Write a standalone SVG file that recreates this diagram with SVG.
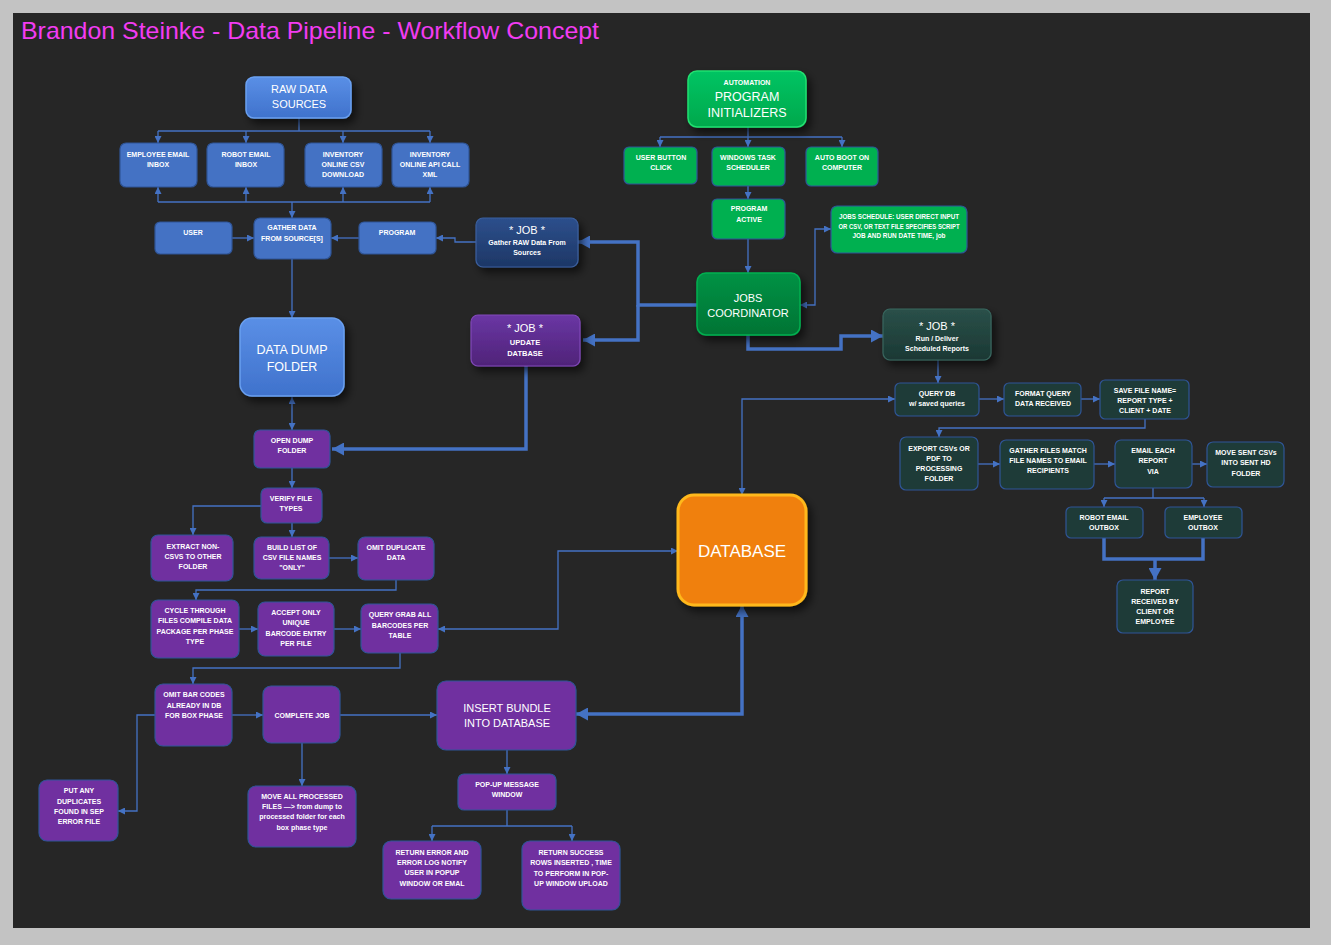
<svg xmlns="http://www.w3.org/2000/svg" width="1331" height="945" viewBox="0 0 1331 945">
<style>
text{font-family:"Liberation Sans",Arial,sans-serif;fill:#fff;text-anchor:middle}
.s{font-size:7px;font-weight:bold}
.m{font-size:11px}
.b{font-size:12.5px}
.c{stroke:#4472c4;stroke-width:1.3;fill:none}
.t{stroke:#4472c4;stroke-width:3.5;fill:none}
.nb{fill:#4472c4;stroke:#2f5597;stroke-width:1.2}
.ng{fill:#00b050;stroke:#2f5597;stroke-width:1.2}
.np{fill:#7030a0;stroke:#2f5597;stroke-width:1.2}
.nt{fill:#1e3b38;stroke:#2f5597;stroke-width:1.2}
</style>
<defs>
<marker id="a" markerUnits="userSpaceOnUse" markerWidth="7" markerHeight="7" refX="7" refY="3.5" orient="auto-start-reverse"><path d="M0,0L7,3.5L0,7z" fill="#4472c4"/></marker>
<marker id="A" markerUnits="userSpaceOnUse" markerWidth="12" markerHeight="13" refX="12" refY="6.5" orient="auto-start-reverse"><path d="M0,0L12,6.5L0,13z" fill="#4472c4"/></marker>
<linearGradient id="gB" x1="0" y1="0" x2="0" y2="1"><stop offset="0" stop-color="#5a8fe6"/><stop offset="1" stop-color="#3f72cc"/></linearGradient>
<linearGradient id="gG" x1="0" y1="0" x2="0" y2="1"><stop offset="0" stop-color="#00c463"/><stop offset="1" stop-color="#00a84c"/></linearGradient>
<linearGradient id="gJ" x1="0" y1="0" x2="0" y2="1"><stop offset="0" stop-color="#009245"/><stop offset="1" stop-color="#007434"/></linearGradient>
<linearGradient id="gN" x1="0" y1="0" x2="0" y2="1"><stop offset="0" stop-color="#2d4f8c"/><stop offset="1" stop-color="#1d3766"/></linearGradient>
<linearGradient id="gP" x1="0" y1="0" x2="0" y2="1"><stop offset="0" stop-color="#6a36a4"/><stop offset="1" stop-color="#4f2378"/></linearGradient>
<linearGradient id="gT" x1="0" y1="0" x2="0" y2="1"><stop offset="0" stop-color="#2a5049"/><stop offset="1" stop-color="#1b3834"/></linearGradient>
<filter id="sh" x="-20%" y="-20%" width="150%" height="160%"><feDropShadow dx="4" dy="5" stdDeviation="4" flood-color="#000" flood-opacity="0.6"/></filter>
</defs>
<rect width="1331" height="945" fill="#c3c3c3"/>
<rect x="13" y="13" width="1297" height="915" fill="#262626"/>
<text x="21" y="39" style="font-size:24px;fill:#f23cf2;text-anchor:start" textLength="578" lengthAdjust="spacingAndGlyphs">Brandon Steinke - Data Pipeline - Workflow Concept</text>

<g id="connectors">
<path class="c" d="M299,118V131M158,131H430"/>
<path class="c" d="M158,131V143" marker-end="url(#a)"/>
<path class="c" d="M246,131V143" marker-end="url(#a)"/>
<path class="c" d="M343,131V143" marker-end="url(#a)"/>
<path class="c" d="M430,131V143" marker-end="url(#a)"/>
<path class="c" d="M158,202H430"/>
<path class="c" d="M158,202V187" marker-end="url(#a)"/>
<path class="c" d="M246,202V187" marker-end="url(#a)"/>
<path class="c" d="M343,202V187" marker-end="url(#a)"/>
<path class="c" d="M430,202V187" marker-end="url(#a)"/>
<path class="c" d="M292,202V218" marker-end="url(#a)"/>
<path class="c" d="M232,238H254" marker-end="url(#a)"/>
<path class="c" d="M359,238H331" marker-end="url(#a)"/>
<path class="c" d="M476,242H455V238H436" marker-end="url(#a)"/>
<path class="c" d="M292,259V318" marker-end="url(#a)"/>
<path class="c" d="M292,397V430" marker-start="url(#a)" marker-end="url(#a)"/>
<path class="c" d="M748,127V137M660,137H842"/>
<path class="c" d="M660,137V147" marker-end="url(#a)"/>
<path class="c" d="M748,137V147" marker-end="url(#a)"/>
<path class="c" d="M842,137V147" marker-end="url(#a)"/>
<path class="c" d="M748,186V199" marker-end="url(#a)"/>
<path class="c" d="M748,239V273" marker-end="url(#a)"/>
<path class="c" d="M800,305H815V229H831" marker-start="url(#a)" marker-end="url(#a)"/>
<path class="t" d="M697,305H638V242H578" marker-end="url(#A)"/>
<path class="t" d="M638,305V340H583" marker-end="url(#A)"/>
<path class="t" d="M748,335V349H841V336H883" marker-end="url(#A)"/>
<path class="t" d="M526,366V449H332" marker-end="url(#A)"/>
<path class="c" d="M292,468V488" marker-end="url(#a)"/>
<path class="c" d="M261,506H193V535" marker-end="url(#a)"/>
<path class="c" d="M292,523V537" marker-end="url(#a)"/>
<path class="c" d="M329,558H358" marker-end="url(#a)"/>
<path class="c" d="M396,580V590H196V600" marker-end="url(#a)"/>
<path class="c" d="M239,629H258" marker-end="url(#a)"/>
<path class="c" d="M334,629H361" marker-end="url(#a)"/>
<path class="c" d="M678,551H558V629H438" marker-start="url(#a)" marker-end="url(#a)"/>
<path class="c" d="M400,653V668H193V684" marker-end="url(#a)"/>
<path class="c" d="M232,715H263" marker-end="url(#a)"/>
<path class="c" d="M155,715H137V811H118" marker-end="url(#a)"/>
<path class="c" d="M302,743V786" marker-end="url(#a)"/>
<path class="c" d="M340,715H437" marker-end="url(#a)"/>
<path class="t" d="M742,605V714H576" marker-start="url(#A)" marker-end="url(#A)"/>
<path class="c" d="M507,750V774" marker-end="url(#a)"/>
<path class="c" d="M507,810V826M432,826H572"/>
<path class="c" d="M432,826V841" marker-end="url(#a)"/>
<path class="c" d="M572,826V841" marker-end="url(#a)"/>
<path class="c" d="M938,360V383" marker-end="url(#a)"/>
<path class="c" d="M895,399H742V495" marker-start="url(#a)" marker-end="url(#a)"/>
<path class="c" d="M979,399H1004" marker-end="url(#a)"/>
<path class="c" d="M1081,399H1100" marker-end="url(#a)"/>
<path class="c" d="M1145,419V428H939V437" marker-end="url(#a)"/>
<path class="c" d="M978,464H1000" marker-end="url(#a)"/>
<path class="c" d="M1094,464H1115" marker-end="url(#a)"/>
<path class="c" d="M1192,464H1207" marker-end="url(#a)"/>
<path class="c" d="M1153,488V498M1104,498H1204"/>
<path class="c" d="M1104,498V507" marker-end="url(#a)"/>
<path class="c" d="M1204,498V507" marker-end="url(#a)"/>
<path class="t" d="M1104,538V559H1203V538M1155,559V580" marker-end="url(#A)"/>
</g>

<g id="raw-data-sources"><rect x="246" y="77" width="105" height="41" rx="8" fill="url(#gB)" stroke="#6aa0f0" stroke-width="1.5" filter="url(#sh)"/><text class="m" x="299" y="93">RAW DATA</text><text class="m" x="299" y="108">SOURCES</text></g>
<g id="employee-email-inbox"><rect class="nb" x="120" y="143" width="77" height="44" rx="6"/><text class="s" x="158" y="156.5">EMPLOYEE EMAIL</text><text class="s" x="158" y="166.5">INBOX</text></g>
<g id="robot-email-inbox"><rect class="nb" x="207" y="143" width="77" height="44" rx="6"/><text class="s" x="246" y="156.5">ROBOT EMAIL</text><text class="s" x="246" y="166.5">INBOX</text></g>
<g id="inventory-csv"><rect class="nb" x="305" y="143" width="77" height="44" rx="6"/><text class="s" x="343" y="156.5">INVENTORY</text><text class="s" x="343" y="166.5">ONLINE CSV</text><text class="s" x="343" y="176.5">DOWNLOAD</text></g>
<g id="inventory-api"><rect class="nb" x="392" y="143" width="77" height="44" rx="6"/><text class="s" x="430" y="156.5">INVENTORY</text><text class="s" x="430" y="166.5">ONLINE  API CALL</text><text class="s" x="430" y="176.5">XML</text></g>
<g id="user"><rect class="nb" x="155" y="222" width="77" height="32" rx="5"/><text class="s" x="193" y="234.5">USER</text></g>
<g id="gather-data"><rect class="nb" x="254" y="218" width="77" height="41" rx="6"/><text class="s" x="292" y="229.5">GATHER DATA</text><text class="s" x="292" y="240.5">FROM SOURCE[S]</text></g>
<g id="program"><rect class="nb" x="359" y="222" width="77" height="32" rx="5"/><text class="s" x="397" y="234.5">PROGRAM</text></g>
<g id="data-dump-folder"><rect x="240" y="318" width="104" height="78" rx="12" fill="url(#gB)" stroke="#6aa0f0" stroke-width="1.5" filter="url(#sh)"/><text class="b" x="292" y="353.5">DATA DUMP</text><text class="b" x="292" y="370.5">FOLDER</text></g>

<g id="automation"><rect x="688" y="71" width="118" height="56" rx="9" fill="url(#gG)" stroke="#22e070" stroke-width="1.5" filter="url(#sh)"/><text class="s" x="747" y="84.5">AUTOMATION</text><text class="b" x="747" y="100.5">PROGRAM</text><text class="b" x="747" y="116.5">INITIALIZERS</text></g>
<g id="user-button-click"><rect class="ng" x="624" y="147" width="73" height="37" rx="5"/><text class="s" x="661" y="159.5">USER BUTTON</text><text class="s" x="661" y="169.5">CLICK</text></g>
<g id="windows-task-scheduler"><rect class="ng" x="712" y="147" width="73" height="39" rx="5"/><text class="s" x="748" y="159.5">WINDOWS TASK</text><text class="s" x="748" y="169.5">SCHEDULER</text></g>
<g id="auto-boot"><rect class="ng" x="806" y="147" width="72" height="39" rx="5"/><text class="s" x="842" y="159.5">AUTO BOOT ON</text><text class="s" x="842" y="169.5">COMPUTER</text></g>
<g id="program-active"><rect class="ng" x="712" y="199" width="73" height="40" rx="5"/><text class="s" x="749" y="210.5">PROGRAM</text><text class="s" x="749" y="221.5">ACTIVE</text></g>
<g id="jobs-schedule"><rect class="ng" x="831" y="206" width="136" height="47" rx="6"/><text class="s" x="899" y="218.5" textLength="120" lengthAdjust="spacingAndGlyphs">JOBS SCHEDULE: USER DIRECT INPUT</text><text class="s" x="899" y="228.5" textLength="121" lengthAdjust="spacingAndGlyphs">OR CSV, OR TEXT FILE SPECIFIES SCRIPT</text><text class="s" x="899" y="237.5" textLength="93" lengthAdjust="spacingAndGlyphs">JOB AND RUN DATE TIME, job</text></g>
<g id="jobs-coordinator"><rect x="697" y="273" width="103" height="62" rx="9" fill="url(#gJ)" stroke="#00b050" stroke-width="1.5" filter="url(#sh)"/><text class="m" x="748" y="302">JOBS</text><text class="m" x="748" y="317">COORDINATOR</text></g>

<g id="job-gather"><rect x="476" y="218" width="102" height="49" rx="7" fill="url(#gN)" stroke="#3b5f9e" stroke-width="1.2" filter="url(#sh)"/><text class="m" x="527" y="234">* JOB *</text><text class="s" x="527" y="244.5">Gather RAW Data From</text><text class="s" x="527" y="254.5">Sources</text></g>
<g id="job-update"><rect x="471" y="315" width="109" height="51" rx="7" fill="url(#gP)" stroke="#8048b8" stroke-width="1.2" filter="url(#sh)"/><text class="m" x="525" y="332">* JOB *</text><text class="s" x="525" y="344.5" style="font-size:7.5px">UPDATE</text><text class="s" x="525" y="355.5" style="font-size:7.5px">DATBASE</text></g>
<g id="job-run"><rect x="883" y="309" width="108" height="51" rx="7" fill="url(#gT)" stroke="#38665e" stroke-width="1.2" filter="url(#sh)"/><text class="m" x="937" y="330">* JOB *</text><text class="s" x="937" y="340.5">Run / Deliver</text><text class="s" x="937" y="350.5">Scheduled Reports</text></g>

<g id="database"><rect x="678" y="495" width="128" height="110" rx="16" fill="#f08010" stroke="#ffb81a" stroke-width="3" filter="url(#sh)"/><text x="742" y="557" style="font-size:17px">DATABASE</text></g>

<g id="open-dump-folder"><rect class="np" x="254" y="430" width="76" height="38" rx="6"/><text class="s" x="292" y="442.5">OPEN DUMP</text><text class="s" x="292" y="452.5">FOLDER</text></g>
<g id="verify-file-types"><rect class="np" x="261" y="488" width="61" height="35" rx="6"/><text class="s" x="291" y="500.5">VERIFY FILE</text><text class="s" x="291" y="510.5">TYPES</text></g>
<g id="extract-non-csvs"><rect class="np" x="151" y="535" width="82" height="46" rx="7"/><text class="s" x="193" y="548.5">EXTRACT NON-</text><text class="s" x="193" y="558.5">CSVS TO OTHER</text><text class="s" x="193" y="568.5">FOLDER</text></g>
<g id="build-list"><rect class="np" x="254" y="537" width="75" height="42" rx="7"/><text class="s" x="292" y="549.5">BUILD LIST OF</text><text class="s" x="292" y="559.5">CSV FILE NAMES</text><text class="s" x="292" y="569.5">"ONLY"</text></g>
<g id="omit-duplicate"><rect class="np" x="358" y="537" width="76" height="43" rx="7"/><text class="s" x="396" y="549.5">OMIT DUPLICATE</text><text class="s" x="396" y="559.5">DATA</text></g>
<g id="cycle-through"><rect class="np" x="151" y="600" width="88" height="58" rx="7"/><text class="s" x="195" y="612.5">CYCLE THROUGH</text><text class="s" x="195" y="622.5">FILES COMPILE DATA</text><text class="s" x="195" y="633.5">PACKAGE PER PHASE</text><text class="s" x="195" y="643.5">TYPE</text></g>
<g id="accept-only"><rect class="np" x="258" y="602" width="76" height="54" rx="7"/><text class="s" x="296" y="614.5">ACCEPT ONLY</text><text class="s" x="296" y="624.5">UNIQUE</text><text class="s" x="296" y="635.5">BARCODE ENTRY</text><text class="s" x="296" y="645.5">PER FILE</text></g>
<g id="query-grab"><rect class="np" x="361" y="604" width="77" height="49" rx="7"/><text class="s" x="400" y="616.5">QUERY GRAB ALL</text><text class="s" x="400" y="627.5">BARCODES PER</text><text class="s" x="400" y="637.5">TABLE</text></g>
<g id="omit-bar-codes"><rect class="np" x="155" y="684" width="77" height="62" rx="8"/><text class="s" x="194" y="696.5">OMIT BAR CODES</text><text class="s" x="194" y="707.5">ALREADY IN DB</text><text class="s" x="194" y="717.5">FOR BOX PHASE</text></g>
<g id="complete-job"><rect class="np" x="263" y="686" width="77" height="57" rx="8"/><text class="s" x="302" y="717.5">COMPLETE JOB</text></g>
<g id="insert-bundle"><rect class="np" x="437" y="681" width="139" height="69" rx="9"/><text class="m" x="507" y="712">INSERT BUNDLE</text><text class="m" x="507" y="727">INTO DATABASE</text></g>
<g id="put-any-duplicates"><rect class="np" x="39" y="780" width="79" height="61" rx="8"/><text class="s" x="79" y="792.5">PUT ANY</text><text class="s" x="79" y="803.5">DUPLICATES</text><text class="s" x="79" y="813.5">FOUND IN SEP</text><text class="s" x="79" y="823.5">ERROR FILE</text></g>
<g id="move-all-processed"><rect class="np" x="248" y="786" width="108" height="61" rx="8"/><text class="s" x="302" y="798.5">MOVE ALL PROCESSED</text><text class="s" x="302" y="808.5">FILES —&gt; from dump to</text><text class="s" x="302" y="818.5">processed folder for each</text><text class="s" x="302" y="829.5">box phase type</text></g>
<g id="popup-message"><rect class="np" x="458" y="774" width="98" height="36" rx="6"/><text class="s" x="507" y="786.5">POP-UP MESSAGE</text><text class="s" x="507" y="796.5">WINDOW</text></g>
<g id="return-error"><rect class="np" x="383" y="841" width="98" height="58" rx="8"/><text class="s" x="432" y="854.5">RETURN ERROR AND</text><text class="s" x="432" y="864.5">ERROR LOG NOTIFY</text><text class="s" x="432" y="874.5">USER IN POPUP</text><text class="s" x="432" y="885.5">WINDOW OR EMAL</text></g>
<g id="return-success"><rect class="np" x="522" y="841" width="98" height="69" rx="8"/><text class="s" x="571" y="854.5">RETURN  SUCCESS</text><text class="s" x="571" y="864.5">ROWS INSERTED , TIME</text><text class="s" x="571" y="875.5">TO PERFORM IN POP-</text><text class="s" x="571" y="885.5">UP WINDOW UPLOAD</text></g>

<g id="query-db"><rect class="nt" x="895" y="383" width="84" height="33" rx="5"/><text class="s" x="937" y="395.5">QUERY DB</text><text class="s" x="937" y="405.5">w/ saved queries</text></g>
<g id="format-query"><rect class="nt" x="1004" y="383" width="77" height="33" rx="5"/><text class="s" x="1043" y="395.5">FORMAT QUERY</text><text class="s" x="1043" y="405.5">DATA RECEIVED</text></g>
<g id="save-file-name"><rect class="nt" x="1100" y="380" width="89" height="39" rx="5"/><text class="s" x="1145" y="392.5">SAVE FILE NAME=</text><text class="s" x="1145" y="402.5">REPORT TYPE  +</text><text class="s" x="1145" y="412.5">CLIENT + DATE</text></g>
<g id="export-csvs"><rect class="nt" x="900" y="437" width="78" height="53" rx="6"/><text class="s" x="939" y="450.5">EXPORT CSVs OR</text><text class="s" x="939" y="460.5">PDF TO</text><text class="s" x="939" y="470.5">PROCESSING</text><text class="s" x="939" y="480.5">FOLDER</text></g>
<g id="gather-files"><rect class="nt" x="1000" y="440" width="94" height="49" rx="6"/><text class="s" x="1048" y="452.5">GATHER FILES MATCH</text><text class="s" x="1048" y="462.5">FILE NAMES TO EMAIL</text><text class="s" x="1048" y="472.5">RECIPIENTS</text></g>
<g id="email-each-report"><rect class="nt" x="1115" y="440" width="77" height="48" rx="6"/><text class="s" x="1153" y="452.5">EMAIL EACH</text><text class="s" x="1153" y="462.5">REPORT</text><text class="s" x="1153" y="473.5">VIA</text></g>
<g id="move-sent-csvs"><rect class="nt" x="1207" y="442" width="77" height="45" rx="6"/><text class="s" x="1246" y="454.5">MOVE SENT CSVs</text><text class="s" x="1246" y="464.5">INTO SENT HD</text><text class="s" x="1246" y="475.5">FOLDER</text></g>
<g id="robot-email-outbox"><rect class="nt" x="1066" y="507" width="77" height="31" rx="5"/><text class="s" x="1104" y="519.5">ROBOT EMAIL</text><text class="s" x="1104" y="529.5">OUTBOX</text></g>
<g id="employee-outbox"><rect class="nt" x="1165" y="507" width="77" height="31" rx="5"/><text class="s" x="1203" y="519.5">EMPLOYEE</text><text class="s" x="1203" y="529.5">OUTBOX</text></g>
<g id="report-received"><rect class="nt" x="1117" y="580" width="76" height="53" rx="6"/><text class="s" x="1155" y="593.5">REPORT</text><text class="s" x="1155" y="603.5">RECEIVED BY</text><text class="s" x="1155" y="613.5">CLIENT OR</text><text class="s" x="1155" y="623.5">EMPLOYEE</text></g>
</svg>
